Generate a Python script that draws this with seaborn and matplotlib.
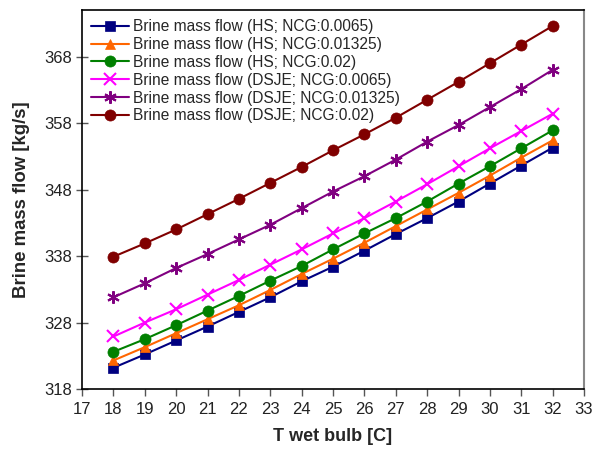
import matplotlib
matplotlib.use("Agg")
import matplotlib.pyplot as plt
import seaborn as sns
import pandas as pd

t_wet = [18, 19, 20, 21, 22, 23, 24, 25, 26, 27, 28, 29, 30, 31, 32]
hs_00065 = [321.2, 323.2, 325.3, 327.4, 329.6, 331.8, 334.2, 336.4, 338.8, 341.3, 343.7, 346.2, 348.9, 351.6, 354.3]
hs_001325 = [322.3, 324.3, 326.4, 328.5, 330.6, 332.9, 335.3, 337.6, 340.0, 342.5, 345.0, 347.5, 350.1, 352.8, 355.4]
hs_002 = [323.6, 325.5, 327.6, 329.8, 332.0, 334.3, 336.5, 339.0, 341.4, 343.7, 346.2, 348.9, 351.5, 354.2, 356.9]
dsje_00065 = [325.9, 328.0, 330.0, 332.2, 334.4, 336.7, 339.0, 341.4, 343.7, 346.2, 348.8, 351.5, 354.2, 356.8, 359.4]
dsje_001325 = [331.8, 333.9, 336.2, 338.3, 340.5, 342.7, 345.2, 347.7, 350.0, 352.5, 355.2, 357.7, 360.4, 363.1, 366.0]
dsje_002 = [337.9, 339.9, 342.0, 344.3, 346.6, 349.0, 351.4, 353.9, 356.3, 358.8, 361.5, 364.2, 367.0, 369.8, 372.6]

labels = [
    "Brine mass flow (HS; NCG:0.0065)",
    "Brine mass flow (HS; NCG:0.01325)",
    "Brine mass flow (HS; NCG:0.02)",
    "Brine mass flow (DSJE; NCG:0.0065)",
    "Brine mass flow (DSJE; NCG:0.01325)",
    "Brine mass flow (DSJE; NCG:0.02)",
]
series = [hs_00065, hs_001325, hs_002, dsje_00065, dsje_001325, dsje_002]
colors = ["#000080", "#FF6600", "#008000", "#FF00FF", "#800080", "#800000"]
markers = ["s", "^", "o", "x", (6, 2, 0), "o"]
msizes = [7, 7.5, 8, 8, 9, 8]

sns.set_theme(style="white")
plt.rcParams["font.family"] = ["Liberation Sans", "DejaVu Sans"]

fig = plt.figure(figsize=(5.95, 4.55), dpi=100)
ax = fig.add_axes([0.138, 0.145, 0.8435, 0.833])

for lab, vals, c, m, ms in zip(labels, series, colors, markers, msizes):
    df = pd.DataFrame({"x": t_wet, "y": vals})
    lined = m in ("x",) or isinstance(m, tuple)
    sns.lineplot(data=df, x="x", y="y", ax=ax, color=c, marker=m, markersize=ms,
                 markeredgecolor=c, markeredgewidth=1.5 if lined else 0.5,
                 linewidth=1.5, label=lab)

ax.set_xlim(17, 33)
ax.set_ylim(318, 375)
ax.set_xticks(range(17, 34))
ax.set_yticks([318, 328, 338, 348, 358, 368])
ax.tick_params(axis="both", labelsize=12, labelcolor="#222222", width=1,
               left=True, bottom=True, color="#555555")
ax.tick_params(axis="y", direction="inout", length=9, pad=3)
ax.tick_params(axis="x", direction="out", length=5, pad=4)
ax.set_xlabel("T wet bulb [C]", fontsize=13, fontweight="bold", labelpad=8)
ax.set_ylabel("Brine mass flow [kg/s]", fontsize=13.4, fontweight="bold", labelpad=10)

for s in ["left", "bottom", "top"]:
    ax.spines[s].set_color("black")
    ax.spines[s].set_linewidth(1.2)
ax.spines["right"].set_color("#888888")
ax.spines["right"].set_linewidth(1.5)

leg = ax.legend(loc="upper left", frameon=False, fontsize=11.2, handlelength=2.4,
                handletextpad=0.3, labelspacing=0.18, borderaxespad=0.4,
                borderpad=0.2)

fig.savefig("out.png", dpi=100)
